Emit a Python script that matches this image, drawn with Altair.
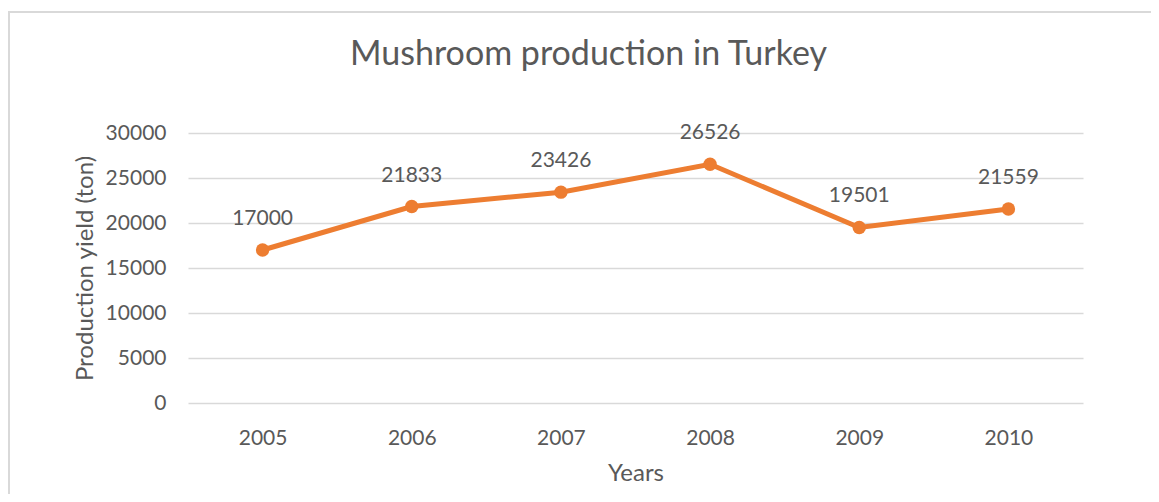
import altair as alt
import pandas as pd

years = ["2005", "2006", "2007", "2008", "2009", "2010"]
production = [17000, 21833, 23426, 26526, 19501, 21559]

df = pd.DataFrame({"Year": years, "Production": production})

FONT = "Lato"
TXT = "#595959"
ORANGE = "#ED7D31"
W, H = 895, 270

base = alt.Chart(df)

x_enc = alt.X(
    "Year:O",
    sort=years,
    title="Years",
    scale=alt.Scale(padding=0.5),
    axis=alt.Axis(
        labelAngle=0, domain=False, ticks=False, grid=False,
        labelFont=FONT, labelFontSize=21, labelColor=TXT, labelPadding=24,
        titleFont=FONT, titleFontSize=24, titleColor=TXT, titleFontWeight="normal",
        titlePadding=13,
    ),
)
y_enc = alt.Y(
    "Production:Q",
    title="Production yield (ton)",
    scale=alt.Scale(domain=[0, 30000]),
    axis=alt.Axis(
        values=[0, 5000, 10000, 15000, 20000, 25000, 30000],
        format="d", domain=False, ticks=False,
        gridColor="#d9d9d9", gridWidth=1.5,
        labelFont=FONT, labelFontSize=21, labelColor=TXT, labelPadding=22,
        titleFont=FONT, titleFontSize=24, titleColor=TXT, titleFontWeight="normal",
        titlePadding=8,
    ),
)

line = base.mark_line(color=ORANGE, strokeWidth=5).encode(x=x_enc, y=y_enc)
pts = base.mark_point(color=ORANGE, filled=True, opacity=1, size=180).encode(x=x_enc, y=y_enc)
labels = base.mark_text(font=FONT, fontSize=21, color=TXT, dy=-31).encode(
    x=x_enc, y=y_enc, text=alt.Text("Production:Q", format="d")
)

border_top = base.mark_rule(color="#d9d9d9", strokeWidth=1.5).encode(
    x=alt.value(-180), x2=alt.value(W + 120), y=alt.value(-121)
)
border_left = base.mark_rule(color="#d9d9d9", strokeWidth=1.5).encode(
    x=alt.value(-179), y=alt.value(-121), y2=alt.value(H + 120)
)

chart = (
    alt.layer(border_top, border_left, line, pts, labels)
    .properties(
        width=W,
        height=H,
        padding={"left": 180, "top": 125, "right": 68, "bottom": 91},
        autosize=alt.AutoSizeParams(type="none"),
        title=alt.Title(
            "Mushroom production in Turkey",
            font=FONT, fontSize=34, color=TXT, fontWeight="normal",
            anchor="middle", dx=-47, offset=-88, baseline="alphabetic",
        ),
    )
    .configure_view(stroke=None)
)

chart.save("out.html", embed_options={"renderer": "svg", "actions": False})
